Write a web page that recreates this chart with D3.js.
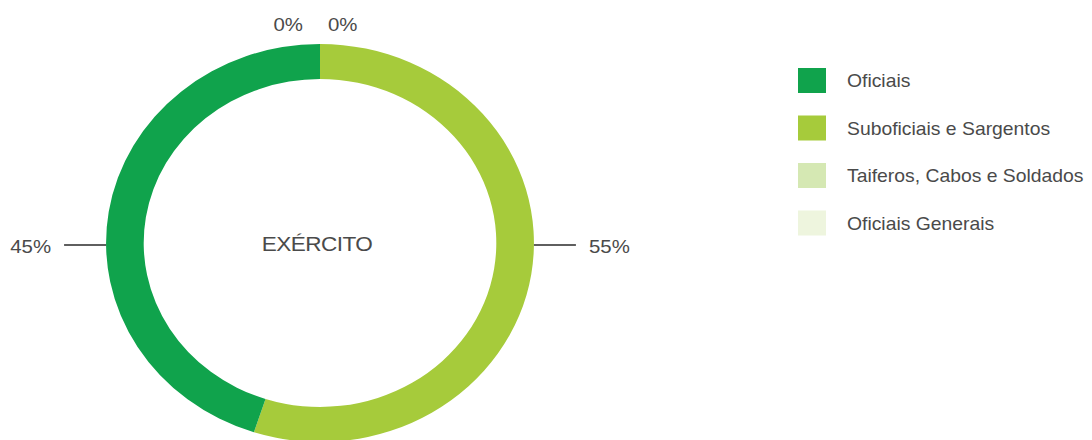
<!DOCTYPE html>
<html>
<head>
<meta charset="utf-8">
<script src="https://cdn.jsdelivr.net/npm/d3@7"></script>
<style>
  body { margin: 0; background: #fff; }
  text { font-family: "Liberation Sans", Arial, sans-serif; fill: #4a4a4a; }
</style>
</head>
<body>
<div id="chart"></div>
<script>
// data
const categories = ['Oficiais', 'Suboficiais e Sargentos', 'Taiferos, Cabos e Soldados', 'Oficiais Generais'];
const values = [45, 55, 0, 0];
const colors = ['#10a34c', '#a6cb3b', '#d5e8b3', '#eef5de'];
const centerTitle = 'EXÉRCITO';

const width = 1092, height = 440;
const cx = 320, cy = 243;
const rOuter = 199, rInner = 164;
const stretchX = 1.075; // reference is slightly wider than tall (ring and text)

const svg = d3.select('#chart')
  .append('svg')
  .attr('width', width)
  .attr('height', height);

// text placed at (x,y) and widened like the reference
function stretchText(sel, x, y) {
  return sel.attr('x', 0).attr('y', 0)
    .attr('transform', `translate(${x},${y}) scale(${stretchX},1)`);
}

const rows = categories.map((c, i) => ({ name: c, value: values[i], color: colors[i] }));

// Suboficiais runs clockwise from the top, Oficiais closes the ring
const pie = d3.pie()
  .value(d => d.value)
  .sort(null)
  .startAngle(0)
  .endAngle(2 * Math.PI);
const pieOrder = [rows[1], rows[0], rows[2], rows[3]];
const arcs = pie(pieOrder);

const arc = d3.arc().innerRadius(rInner).outerRadius(rOuter);

const g = svg.append('g')
  .attr('transform', `translate(${cx},${cy}) scale(${stretchX},1)`);

g.selectAll('path')
  .data(arcs)
  .join('path')
  .attr('d', arc)
  .attr('fill', d => d.data.color);

// centre title
svg.append('text')
  .call(stretchText, cx - 3, cy + 1)
  .attr('text-anchor', 'middle')
  .attr('dominant-baseline', 'central')
  .style('font-size', '21px')
  .style('letter-spacing', '-0.5px')
  .text(centerTitle);

// percentage labels
const fmt = v => `${v}%`;
const edge = rOuter * stretchX;
const lineLen = 42;
const labels = svg.append('g');

arcs.filter(d => d.data.value > 0).forEach(d => {
  const mid = (d.startAngle + d.endAngle) / 2;
  const side = Math.sin(mid) >= 0 ? 1 : -1;
  const y = cy + 2;
  labels.append('line')
    .attr('x1', cx + side * edge)
    .attr('x2', cx + side * (edge + lineLen))
    .attr('y1', y).attr('y2', y)
    .attr('stroke', '#2a2a2a')
    .attr('stroke-width', 1.3);
  labels.append('text')
    .call(stretchText, cx + side * (edge + lineLen + 13), y + 1)
    .attr('text-anchor', side > 0 ? 'start' : 'end')
    .attr('dominant-baseline', 'central')
    .style('font-size', '19px')
    .text(fmt(d.data.value));
});

// zero slices sit at the top, spread left and right of the seam
const zeros = arcs.filter(d => d.data.value === 0);
zeros.forEach((d, i) => {
  const side = i === 0 ? -1 : 1;
  labels.append('text')
    .call(stretchText, side < 0 ? cx - 17 : cx + 8, cy - rOuter - 13)
    .attr('text-anchor', side < 0 ? 'end' : 'start')
    .style('font-size', '19px')
    .text(fmt(d.data.value));
});

// legend
const legend = svg.append('g')
  .attr('transform', 'translate(798,68)');

const item = legend.selectAll('g')
  .data(rows)
  .join('g')
  .attr('transform', (d, i) => `translate(0,${i * 47.5})`);

item.append('rect')
  .attr('width', 28)
  .attr('height', 25)
  .attr('fill', d => d.color);

item.append('text')
  .call(stretchText, 49, 13)
  .attr('dominant-baseline', 'central')
  .style('font-size', '18px')
  .text(d => d.name);
</script>
</body>
</html>
